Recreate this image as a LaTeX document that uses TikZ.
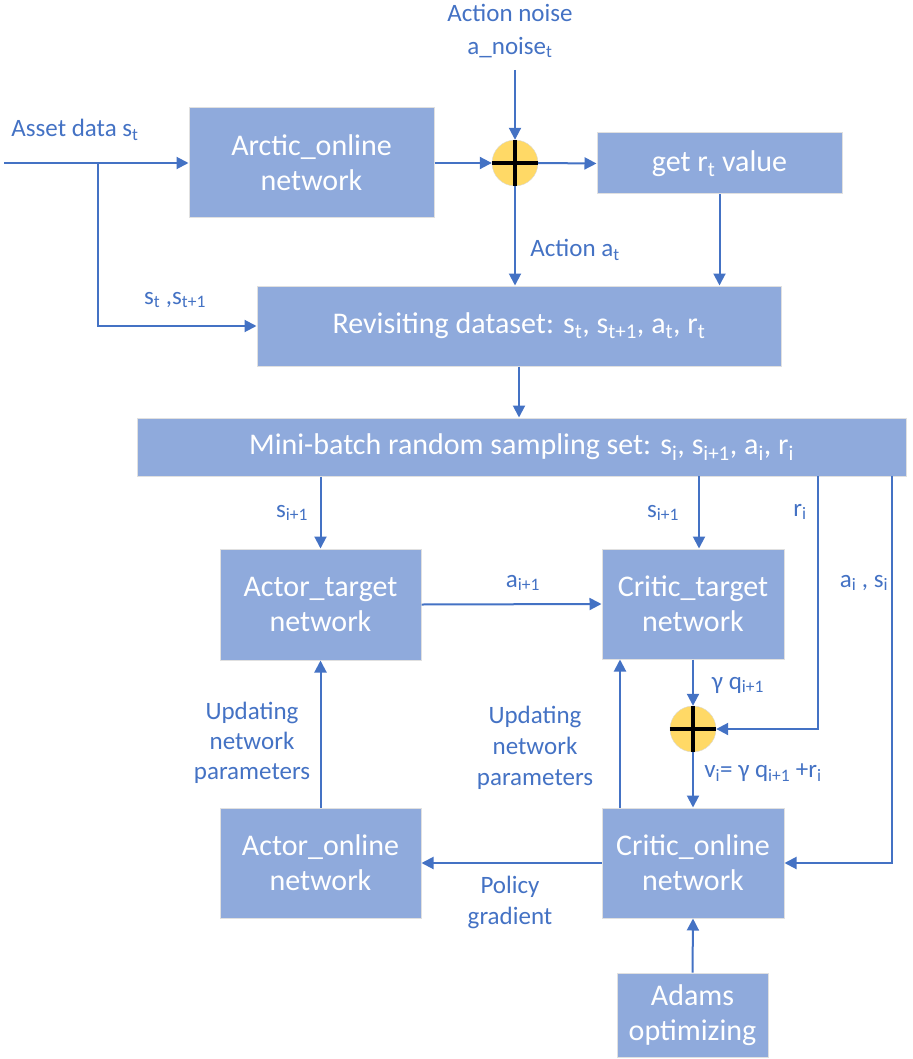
\documentclass[tikz,border=0pt]{standalone}
\usepackage{fontspec}
\setmainfont{Carlito}
\usetikzlibrary{arrows.meta}
\definecolor{boxfill}{HTML}{8FAADC}
\definecolor{lineblue}{HTML}{4472C4}
\definecolor{sumyellow}{HTML}{FFD966}
\newcommand{\sbs}[1]{\textsubscript{#1}}
\begin{document}
\begin{tikzpicture}[x=1pt,y=-1pt,
 box/.style={draw=black!12, line width=1pt, fill=boxfill, text=white, font=\fontsize{30}{35}\selectfont, align=center, inner sep=0pt},
 lbl/.style={text=lineblue, font=\fontsize{25}{31}\selectfont, align=center, inner sep=0pt},
 conn/.style={draw=lineblue, line width=2pt, -{Triangle[length=12pt,width=12pt]}},
 sumnode/.style={circle, fill=sumyellow, draw=black!15, minimum size=46pt, inner sep=0pt},
 cross/.style={draw=black, line width=4pt}]
\useasboundingbox (0,0) rectangle (912,1059);

% boxes
\node[box, minimum width=245pt, minimum height=110pt] (arctic) at (311.5,163) {Arctic\_online\\network};
\node[box, minimum width=245pt, minimum height=61pt] (getr) at (719.5,163.5) {get r\sbs{t} value};
\node[box, minimum width=524pt, minimum height=80pt] (revis) at (519,326) {Revisiting dataset: s\sbs{t}, s\sbs{t+1}, a\sbs{t}, r\sbs{t}};
\node[box, minimum width=769pt, minimum height=58pt] (mini) at (521.5,447) {Mini-batch random sampling set: s\sbs{i}, s\sbs{i+1}, a\sbs{i}, r\sbs{i}};
\node[box, minimum width=201pt, minimum height=111pt] (atarget) at (320.5,604.5) {Actor\_target\\network};
\node[box, minimum width=182pt, minimum height=110pt] (ctarget) at (693,604) {Critic\_target\\network};
\node[box, minimum width=201pt, minimum height=110pt] (aonline) at (320.5,863) {Actor\_online\\network};
\node[box, minimum width=182pt, minimum height=110pt] (conline) at (693,863) {Critic\_online\\network};
\node[box, minimum width=151pt, minimum height=84pt] (adams) at (692.5,1015) {Adams\\optimizing};

% summing junctions
\node[sumnode] (sum1) at (515,163) {};
\draw[cross] (sum1.north) -- (sum1.south) (sum1.west) -- (sum1.east);
\node[sumnode] (sum2) at (693,729) {};
\draw[cross] (sum2.north) -- (sum2.south) (sum2.west) -- (sum2.east);

% coordinates for free ends
\coordinate (in) at (4,163);
\coordinate (br) at (98,163);
\coordinate (noise) at (515,70);
\coordinate (c1) at (699,476);
\coordinate (rtop) at (818,476);
\coordinate (atop) at (892,476);
\coordinate (u2) at (620,808);

% connectors
\draw[conn] (in) -- (arctic.west);
\draw[conn] (br) |- (revis.west);
\draw[conn] (arctic.east) -- (sum1.west);
\draw[conn] (noise) -- (sum1.north);
\draw[conn] (sum1.east) -- (getr.west);
\draw[conn] (sum1.south) -- (sum1.south |- revis.north);
\draw[conn] (getr.south) -- (getr.south |- revis.north);
\draw[conn] (revis.south) -- (revis.south |- mini.north);
\draw[conn] (atarget.north |- mini.south) -- (atarget.north);
\draw[conn] (c1) -- (c1 |- ctarget.north);
\draw[conn] (rtop) |- (sum2.east);
\draw[conn] (atop) |- (conline.east);
\draw[conn] (atarget.east) -- (ctarget.west);
\draw[conn] (ctarget.south) -- (sum2.north);
\draw[conn] (sum2.south) -- (conline.north);
\draw[conn] (conline.west) -- (aonline.east);
\draw[conn] (aonline.north) -- (atarget.south);
\draw[conn] (u2) -- (u2 |- ctarget.south);
\draw[conn] (adams.north) -- (conline.south);

% labels
\node[lbl] (l1) at (75,130) {Asset data s\sbs{t}};
\node[lbl, font=\fontsize{25}{33}\selectfont] (l2) at (510,31) {Action noise\\a\_noise\sbs{t}};
\node[lbl] (l3) at (575,250) {Action a\sbs{t}};
\node[lbl] (l4) at (175,300) {s\sbs{t} ,s\sbs{t+1}};
\node[lbl] (l5) at (292,513) {s\sbs{i+1}};
\node[lbl] (l6) at (663,513) {s\sbs{i+1}};
\node[lbl] (l7) at (800,512) {r\sbs{i}};
\node[lbl] (l8) at (523,583) {a\sbs{i+1}};
\node[lbl] (l9) at (864,583) {a\sbs{i} , s\sbs{i}};
\node[lbl] (l10) at (738,685) {γ q\sbs{i+1}};
\node[lbl] (l11) at (763,773) {v\sbs{i}= γ q\sbs{i+1} +r\sbs{i}};
\node[lbl, font=\fontsize{25}{30}\selectfont] (l12) at (252,743) {Updating\\network\\parameters};
\node[lbl, font=\fontsize{25}{31}\selectfont] (l13) at (535,748) {Updating\\network\\parameters};
\node[lbl] (l14) at (510,902) {Policy\\gradient};
\end{tikzpicture}
\end{document}
